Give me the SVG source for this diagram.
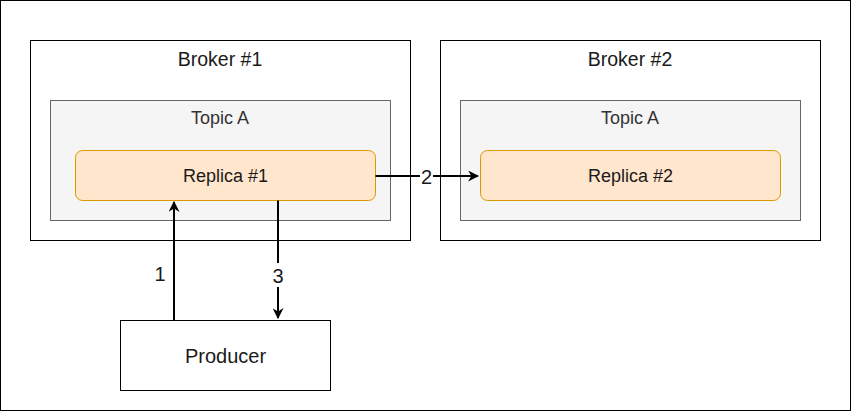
<svg xmlns="http://www.w3.org/2000/svg" width="851" height="411" viewBox="0 0 851 411">
<defs>
<style>
text{font-family:"Liberation Sans",Arial,sans-serif;fill:#1a1a1a;text-anchor:middle}
.box{fill:#fff;stroke:#000;stroke-width:1}
.topic{fill:#f5f5f5;stroke:#666;stroke-width:1}
.rep{fill:#ffe6cc;stroke:#d79b00;stroke-width:1}
.edge{stroke:#000;stroke-width:2;fill:none}
.lbl{font-size:20px}
</style>
<marker id="ah" viewBox="0 0 10 10" refX="9" refY="5" markerWidth="5.5" markerHeight="5.5" markerUnits="strokeWidth" orient="auto">
<path d="M0,0 L10,5 L0,10 L3,5 Z" fill="#000"/>
</marker>
</defs>
<rect x="0.5" y="0.5" width="850" height="410" fill="#fff" stroke="#000"/>
<g id="broker1">
<rect class="box" x="30.5" y="40.5" width="380" height="200"/>
<text x="220" y="66" font-size="19.5">Broker #1</text>
</g>
<g id="topic1">
<rect class="topic" x="50.5" y="100.5" width="340" height="120"/>
<text x="220" y="123.5" font-size="18" style="fill:#333">Topic A</text>
</g>
<g id="replica1">
<rect class="rep" x="75.5" y="150.5" width="300" height="50" rx="7"/>
<text x="225.5" y="181.5" font-size="18">Replica #1</text>
</g>
<g id="broker2">
<rect class="box" x="440.5" y="40.5" width="380" height="200"/>
<text x="630" y="66" font-size="19.5">Broker #2</text>
</g>
<g id="topic2">
<rect class="topic" x="460.5" y="100.5" width="340" height="120"/>
<text x="630" y="123.5" font-size="18" style="fill:#333">Topic A</text>
</g>
<g id="replica2">
<rect class="rep" x="480.5" y="150.5" width="300" height="50" rx="7"/>
<text x="630.5" y="181.5" font-size="18">Replica #2</text>
</g>
<g id="producer">
<rect class="box" x="120.5" y="320.5" width="210" height="70"/>
<text x="225.5" y="363" font-size="20">Producer</text>
</g>
<g id="connectors">
<path class="edge" d="M174,320 V202" marker-end="url(#ah)"/>
<text class="lbl" x="160" y="281">1</text>
<path class="edge" d="M375.5,176 H478" marker-end="url(#ah)"/>
<rect x="420" y="166" width="13" height="20" fill="#fff"/>
<text class="lbl" x="426.5" y="183.5">2</text>
<path class="edge" d="M278,200.5 V318" marker-end="url(#ah)"/>
<rect x="271" y="263" width="14" height="24" fill="#fff"/>
<text class="lbl" x="278" y="283">3</text>
</g>
</svg>
